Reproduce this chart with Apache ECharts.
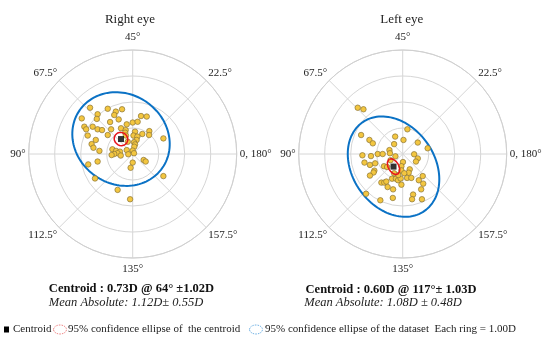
<!DOCTYPE html>
<html><head><meta charset="utf-8">
<script src="https://cdn.jsdelivr.net/npm/echarts@6/dist/echarts.min.js"></script>
<style>html,body{margin:0;padding:0;background:#fff}#c{width:550px;height:345px}</style>
</head><body><div id="c"></div>
<script>
// ---- data ----
const eyes = ['Right eye', 'Left eye'];
const ringMax = 4;            // each ring = 1.00 D
const ringStep = 1;
const angleStep = 22.5;       // axis degrees between spokes
// double-angle components [x, y] in diopters
const rightEyePts = [[-1.64,1.78],[-0.96,1.74],[-0.41,1.72],[-0.65,1.63],[-1.35,1.53],[-0.71,1.50],[-1.96,1.37],[-1.38,1.35],[-0.54,1.33],[0.32,1.46],[0.54,1.44],[0.00,1.21],[0.19,1.24],[-0.23,1.14],[-1.86,1.05],[-1.54,1.05],[-1.79,0.95],[-1.35,0.95],[-1.18,0.92],[-0.83,0.95],[-0.45,0.99],[-0.27,0.92],[-0.29,0.82],[0.64,0.88],[0.63,0.73],[0.37,0.77],[0.09,0.86],[-1.73,0.71],[-0.96,0.73],[-0.26,0.71],[0.03,0.71],[0.18,0.67],[0.15,0.54],[1.18,0.60],[-1.42,0.54],[-0.19,0.47],[-1.58,0.38],[0.05,0.45],[0.09,0.37],[-1.51,0.24],[0.06,0.28],[-0.78,0.18],[-0.64,0.12],[-0.49,0.09],[-1.28,0.12],[-0.58,0.03],[-0.71,0.00],[0.00,0.13],[-0.23,0.15],[-0.81,-0.04],[-0.46,-0.06],[-0.17,-0.01],[0.05,0.03],[0.42,-0.23],[0.50,-0.29],[-1.71,-0.40],[-1.35,-0.29],[0.00,-0.33],[-0.08,-0.53],[1.18,-0.85],[-1.45,-0.94],[-0.58,-1.38],[-0.10,-1.74],[-0.87,1.23]];
const leftEyePts = [[-1.73,1.78],[-1.51,1.72],[0.18,0.95],[-1.60,0.73],[-1.28,0.54],[-1.15,0.41],[-0.29,0.67],[0.03,0.54],[0.58,0.44],[0.96,0.22],[-0.33,0.38],[-0.51,0.15],[-0.49,0.03],[-0.28,-0.09],[-1.55,-0.05],[-1.22,-0.08],[-0.96,0.00],[-0.77,0.00],[0.44,-0.01],[0.58,-0.17],[0.51,-0.29],[-1.47,-0.33],[-1.26,-0.42],[-1.06,-0.36],[-1.09,-0.64],[-1.12,-0.71],[-0.72,-0.47],[-0.60,-0.50],[-0.47,-0.24],[0.01,-0.31],[-0.05,-0.47],[-0.05,-0.63],[0.27,-0.59],[0.23,-0.72],[0.06,-0.74],[-1.26,-0.83],[-0.82,-1.10],[-0.71,-1.10],[-0.63,-1.06],[-0.41,-0.95],[-0.26,-0.95],[-0.18,-1.01],[-0.08,-0.94],[0.17,-0.92],[0.33,-0.92],[0.62,-1.01],[0.77,-0.85],[0.79,-1.14],[-0.58,-1.27],[-0.37,-1.36],[-0.05,-1.18],[-1.41,-1.53],[-0.86,-1.78],[-0.38,-1.69],[0.40,-1.56],[0.36,-1.74],[0.74,-1.74],[0.71,-1.36],[-0.17,-0.81],[-0.33,-0.74]];
const centroidMag = [0.73, 0.60];
const centroidAxis = [64, 117];
const centroidSD = [1.02, 1.03];
const meanAbs = [1.12, 1.08];
const meanAbsSD = [0.55, 0.48];
// 95% ellipses: semi-axes (D) and orientation in the double-angle plane (deg)
const dataEllA = [1.94, 2.08];
const dataEllB = [1.73, 1.58];
const dataEllRot = [145, 125];
const centEllA = [0.27, 0.33];
const centEllB = [0.25, 0.20];
const centEllRot = [145, 120];
const legendNames = ['Centroid', '95% confidence ellipse of  the centroid', '95% confidence ellipse of the dataset', 'Each ring = 1.00D'];

// ---- helpers ----
const SERIF = '"Liberation Serif","Times New Roman",serif';
function toPolar(p) {
  const r = Math.hypot(p[0], p[1]);
  let a = Math.atan2(p[1], p[0]) * 90 / Math.PI;
  if (a < 0) a += 180;
  return [r, a];
}
function ellipse(i, A, B, R) {
  const m = centroidMag[i], ax = centroidAxis[i] * Math.PI / 90;
  const cx = m * Math.cos(ax), cy = m * Math.sin(ax);
  const rot = R[i] * Math.PI / 180, out = [];
  for (let k = 0; k <= 120; k++) {
    const t = k / 120 * 2 * Math.PI;
    const ex = A[i] * Math.cos(t), ey = B[i] * Math.sin(t);
    out.push(toPolar([cx + ex * Math.cos(rot) - ey * Math.sin(rot), cy + ex * Math.sin(rot) + ey * Math.cos(rot)]));
  }
  return out;
}
const pts = [rightEyePts, leftEyePts];
const centers = [[132.7, 154], [402.7, 154]];

const labelRich = {
  t: { fontFamily: SERIF, fontSize: 11, color: '#222', padding: [0, 0, 4, 0] },
  b: { fontFamily: SERIF, fontSize: 11, color: '#222', padding: [3, 0, 0, 0] }
};
function angleLabel(v) {
  if (v >= 180) return '';
  const s = v === 0 ? '0, 180°' : v + '°';
  if (v === 45) return '{t|' + s + '}';
  if (v === 135) return '{b|' + s + '}';
  return s;
}

const polar = [], angleAxis = [], radiusAxis = [], series = [], title = [], graphic = [];
const textX = [[131.5, 126], [391, 383]];
const textY = [[289, 303], [290, 303]];
const centTxt = ['Centroid : ' + centroidMag[0].toFixed(2) + 'D @ ' + centroidAxis[0] + '° ±' + centroidSD[0].toFixed(2) + 'D',
                 'Centroid : ' + centroidMag[1].toFixed(2) + 'D @ ' + centroidAxis[1] + '°± ' + centroidSD[1].toFixed(2) + 'D'];
const meanTxt = ['Mean Absolute: ' + meanAbs[0].toFixed(2) + 'D± ' + meanAbsSD[0].toFixed(2) + 'D',
                 'Mean Absolute: ' + meanAbs[1].toFixed(2) + 'D ± ' + meanAbsSD[1].toFixed(2) + 'D'];

for (let i = 0; i < 2; i++) {
  polar.push({ center: centers[i], radius: 104 });
  angleAxis.push({
    polarIndex: i, type: 'value', min: 0, max: 180, interval: angleStep,
    startAngle: 0, clockwise: false,
    axisLine: { show: true, lineStyle: { color: '#d0d0d0', width: 1 } },
    axisTick: { show: false },
    splitLine: { show: true, lineStyle: { color: '#d6d6d6', width: 1 } },
    axisLabel: { show: true, margin: 3, fontFamily: SERIF, fontSize: 11, color: '#222', formatter: angleLabel, rich: labelRich }
  });
  radiusAxis.push({
    polarIndex: i, type: 'value', min: 0, max: ringMax, interval: ringStep,
    axisLine: { show: false }, axisTick: { show: false }, axisLabel: { show: false },
    splitLine: { show: true, lineStyle: { color: '#d6d6d6', width: 1 } }
  });
  series.push({
    name: eyes[i] + ' data', type: 'scatter', coordinateSystem: 'polar', polarIndex: i,
    data: pts[i].map(toPolar), symbolSize: 5.5, z: 3,
    itemStyle: { color: '#f3c640', borderColor: '#8a7436', borderWidth: 0.7, opacity: 1 }
  });
  series.push({
    name: legendNames[2], type: 'line', coordinateSystem: 'polar', polarIndex: i,
    data: ellipse(i, dataEllA, dataEllB, dataEllRot), showSymbol: false, symbol: 'none', smooth: false, z: 2,
    lineStyle: { color: '#0b72c5', width: 2 }
  });
  series.push({
    name: legendNames[1], type: 'line', coordinateSystem: 'polar', polarIndex: i,
    data: ellipse(i, centEllA, centEllB, centEllRot), showSymbol: false, symbol: 'none', z: 4,
    lineStyle: { color: '#e8141c', width: 1.5 }
  });
  series.push({
    name: legendNames[0], type: 'scatter', coordinateSystem: 'polar', polarIndex: i,
    data: [[centroidMag[i], centroidAxis[i]]], symbol: 'rect', symbolSize: 6, z: 5,
    itemStyle: { color: '#000' }
  });
  title.push({
    text: eyes[i], left: [130, 401.7][i], top: 13.5, textAlign: 'center', padding: 0,
    textStyle: { fontFamily: SERIF, fontSize: 13, fontWeight: 'normal', color: '#222' }
  });
  graphic.push({ type: 'text', x: textX[i][0], y: textY[i][0],
    style: { text: centTxt[i], fontFamily: SERIF, fontSize: 12.5, fontWeight: 'bold', fill: '#111', align: 'center', verticalAlign: 'middle' } });
  graphic.push({ type: 'text', x: textX[i][1], y: textY[i][1],
    style: { text: meanTxt[i], fontFamily: SERIF, fontSize: 12.5, fontStyle: 'italic', fill: '#222', align: 'center', verticalAlign: 'middle' } });
}

// legend row
const LY = 329.5;
graphic.push({ type: 'rect', shape: { x: 4, y: LY - 3, width: 5, height: 6 }, style: { fill: '#000' } });
graphic.push({ type: 'text', x: 13, y: LY, style: { text: legendNames[0], fontFamily: SERIF, fontSize: 11, fill: '#222', verticalAlign: 'middle' } });
graphic.push({ type: 'ellipse', shape: { cx: 60, cy: LY, rx: 6.5, ry: 4.5 }, style: { fill: 'none', stroke: '#f08a8a', lineWidth: 1, lineDash: [1.5, 1] } });
graphic.push({ type: 'text', x: 68, y: LY, style: { text: legendNames[1], fontFamily: SERIF, fontSize: 11, fill: '#222', verticalAlign: 'middle' } });
graphic.push({ type: 'ellipse', shape: { cx: 256, cy: LY, rx: 6.5, ry: 4.5 }, style: { fill: 'none', stroke: '#78b6e6', lineWidth: 1, lineDash: [1.5, 1] } });
graphic.push({ type: 'text', x: 265, y: LY, style: { text: legendNames[2] + '  ' + legendNames[3], fontFamily: SERIF, fontSize: 11, fill: '#222', verticalAlign: 'middle' } });

const chart = echarts.init(document.getElementById('c'), null, { renderer: 'canvas' });
chart.setOption({
  animation: false, backgroundColor: '#fff',
  title, polar, angleAxis, radiusAxis, series, graphic
});
</script></body></html>
